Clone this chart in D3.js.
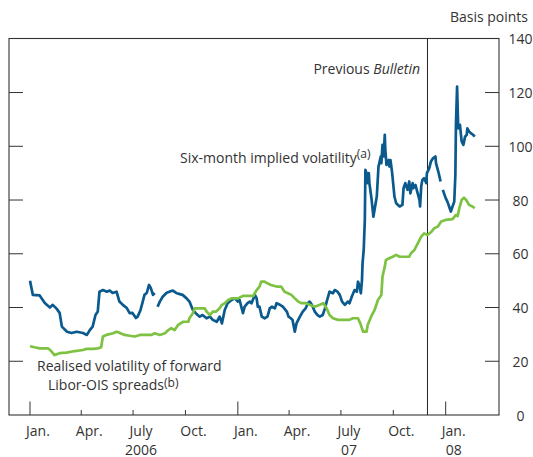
<!DOCTYPE html>
<html><head><meta charset="utf-8">
<script src="https://cdn.jsdelivr.net/npm/d3@7"></script>
<style>
html,body{margin:0;padding:0;background:#fff;}
text{font-family:"Open Sans","Noto Sans",sans-serif;fill:#333;}
</style></head>
<body><svg id="c" width="533" height="457"></svg>
<script>
// ---- data ----
const blueDates = ["2006-01-01","2006-01-06","2006-01-18","2006-01-27","2006-02-05","2006-02-10","2006-02-17","2006-02-22","2006-02-26","2006-03-07","2006-03-15","2006-03-24","2006-04-04","2006-04-11","2006-04-16","2006-04-21","2006-04-26","2006-04-30","2006-05-03","2006-05-09","2006-05-16","2006-05-21","2006-05-26","2006-06-02","2006-06-07","2006-06-13","2006-06-20","2006-06-25","2006-06-30","2006-07-06","2006-07-09","2006-07-14","2006-07-18","2006-07-21","2006-07-25","2006-07-29","2006-08-01","2006-08-05","2006-08-08","2006-08-10","2006-08-13","2006-08-17","2006-08-22","2006-08-29","2006-09-03","2006-09-09","2006-09-16","2006-09-21","2006-09-26","2006-10-03","2006-10-08","2006-10-14","2006-10-19","2006-10-26","2006-10-31","2006-11-07","2006-11-13","2006-11-18","2006-11-25","2006-11-30","2006-12-04","2006-12-09","2006-12-14","2006-12-21","2006-12-27","2007-01-01","2007-01-04","2007-01-10","2007-01-13","2007-01-18","2007-01-22","2007-01-25","2007-01-31","2007-02-03","2007-02-05","2007-02-08","2007-02-12","2007-02-17","2007-02-22","2007-02-26","2007-03-02","2007-03-07","2007-03-10","2007-03-16","2007-03-21","2007-03-28","2007-03-31","2007-04-04","2007-04-07","2007-04-11","2007-04-14","2007-04-20","2007-04-25","2007-04-30","2007-05-04","2007-05-07","2007-05-11","2007-05-16","2007-05-21","2007-05-25","2007-05-30","2007-06-03","2007-06-06","2007-06-11","2007-06-17","2007-06-20","2007-06-25","2007-06-29","2007-07-03","2007-07-08","2007-07-13","2007-07-16","2007-07-20","2007-07-25","2007-07-29","2007-07-31","2007-08-03","2007-08-05","2007-08-07","2007-08-08","2007-08-10","2007-08-12","2007-08-13","2007-08-15","2007-08-17","2007-08-19","2007-08-20","2007-08-24","2007-08-27","2007-08-29","2007-09-02","2007-09-05","2007-09-09","2007-09-10","2007-09-12","2007-09-14","2007-09-16","2007-09-17","2007-09-19","2007-09-23","2007-09-24","2007-09-26","2007-09-29","2007-10-03","2007-10-06","2007-10-12","2007-10-17","2007-10-19","2007-10-22","2007-10-26","2007-10-29","2007-10-31","2007-11-04","2007-11-05","2007-11-09","2007-11-12","2007-11-16","2007-11-17","2007-11-19","2007-11-21","2007-11-24","2007-11-28","2007-11-29","2007-12-03","2007-12-06","2007-12-10","2007-12-14","2007-12-15","2007-12-19","2007-12-23","2007-12-25","2007-12-27","2007-12-30","2008-01-01","2008-01-04","2008-01-07","2008-01-10","2008-01-13","2008-01-16","2008-01-18","2008-01-19","2008-01-21","2008-01-22","2008-01-23","2008-01-26","2008-01-29","2008-02-01","2008-02-04","2008-02-07","2008-02-08","2008-02-11","2008-02-14","2008-02-18","2008-02-21"];
const blueValues = [50,44.7,44.5,41.7,40,41,39.5,38,32.9,31,30.5,31,30.5,29.8,31.6,32.9,37.2,38.5,45.9,46.5,45.9,46.3,45.4,45.9,42.2,41,39.8,37.9,38,36.1,36.6,39,42.2,44.7,45.4,48.4,47.3,44.7,45.4,null,40.3,42.2,44,45.5,45.9,46.3,45.3,45,44.7,43.4,42.2,39.1,37.9,36.6,37.2,36,36.6,35.4,34.7,36.6,34.1,39.1,41.6,42.8,43.4,42.2,42.8,37.9,40.3,41.6,42.2,41.6,44.7,43.4,40.3,40.3,36.6,36,36.6,39.7,40.3,39.7,41.6,41,40.3,38.5,36.6,36,35.4,31,34.1,36.6,38.5,39.7,41.6,42.2,41,38.5,37.2,36.6,37.2,39.7,42.2,45.9,45.3,46.5,45.9,44.7,42.2,41,42.2,41.6,44,46.5,45.9,49.6,47.8,45.3,50.3,56.5,61.4,72.6,91.2,90,86.3,90,86.3,80,73.8,76.3,81.3,92.5,96.2,93.7,100.5,96.2,104.3,98.7,93.1,94.9,92.5,94.9,90,81.3,78.8,77.6,78.2,84.4,86.3,83.8,86.9,82.5,86.3,84.4,85.6,83.1,80,77.6,85,87.5,88.1,86.3,90,91.8,94.3,95.6,96.2,93.7,90.6,86.9,null,83.8,81.9,80.7,79.4,77.6,75.7,77.6,79.4,89.4,108,122.2,114.2,106.7,108,101.8,100.5,103.6,104.3,106.7,105.5,104.9,104.3,103.6];

const greenDates = ["2006-01-01","2006-01-09","2006-01-18","2006-02-02","2006-02-08","2006-02-13","2006-02-22","2006-03-06","2006-03-21","2006-04-04","2006-04-10","2006-04-22","2006-04-30","2006-05-06","2006-05-09","2006-05-15","2006-05-27","2006-06-02","2006-06-07","2006-06-16","2006-06-25","2006-07-04","2006-07-13","2006-07-21","2006-08-02","2006-08-08","2006-08-17","2006-08-26","2006-09-01","2006-09-06","2006-09-12","2006-09-18","2006-09-27","2006-10-06","2006-10-08","2006-10-14","2006-10-17","2006-11-04","2006-11-07","2006-11-13","2006-11-18","2006-11-24","2006-11-30","2006-12-04","2006-12-09","2006-12-15","2006-12-21","2007-01-01","2007-01-10","2007-01-28","2007-02-03","2007-02-08","2007-02-11","2007-02-17","2007-02-22","2007-02-28","2007-03-10","2007-03-18","2007-03-24","2007-03-30","2007-04-05","2007-04-11","2007-04-17","2007-04-23","2007-05-01","2007-05-07","2007-05-16","2007-05-25","2007-05-31","2007-06-06","2007-06-11","2007-06-17","2007-06-26","2007-07-16","2007-07-22","2007-07-31","2007-08-04","2007-08-09","2007-08-15","2007-08-17","2007-08-23","2007-08-29","2007-09-04","2007-09-10","2007-09-12","2007-09-16","2007-09-18","2007-09-24","2007-09-30","2007-10-06","2007-10-12","2007-10-29","2007-11-01","2007-11-07","2007-11-13","2007-11-19","2007-11-24","2007-11-30","2007-12-06","2007-12-12","2007-12-18","2007-12-24","2008-01-01","2008-01-13","2008-01-19","2008-01-22","2008-01-25","2008-01-29","2008-02-02","2008-02-06","2008-02-11","2008-02-17","2008-02-21"];
const greenValues = [25.6,25.2,24.8,24.8,23.6,22.3,23,23.2,23.8,24.2,24.6,24.6,24.8,25.2,29.2,29.8,30.4,31,30.6,29.8,29.5,29.2,29.8,29.8,29.8,30.4,29.8,30.4,31.6,32.3,31.6,33.5,34.7,34.7,36,37.9,39.7,39.7,38.5,37.2,38.5,38.5,39.7,41,41.6,42.8,43.4,43.4,44.3,44.3,46.5,47.8,49.6,49.6,49,48.4,47.8,47.8,45.9,45.3,44.7,43.4,42.2,41.6,41.6,41,40.3,41,41.6,39.7,37.2,36,35.4,35.4,36,36,34.1,31,31,33.5,36.6,39,42.8,44.7,51.5,55.2,57.7,58.3,58.9,59.6,58.9,58.9,60.2,61.4,63.9,66.4,67.6,67,68,69.5,70.1,72,72.6,72.9,74.5,74,77,80,80.9,80,78.2,77.6,77];

const monthTicks = ["2006-01-01","2006-04-01","2006-07-01","2006-10-01","2007-01-01","2007-04-01","2007-07-01","2007-10-01","2008-01-01"];
const monthLabels = ["Jan.","Apr.","July","Oct.","Jan.","Apr.","July","Oct.","Jan."];
const yearDates = ["2006-07-01","2007-07-01","2008-01-01"];
const yearLabels = ["2006","07","08"];
const yTicks = [0,20,40,60,80,100,120,140];
const bulletinDate = "2007-11-30";

// ---- scales ----
const parse = d3.timeParse("%Y-%m-%d");
const frame = {l:9, r:499, t:38.5, b:415};
const x = d3.scaleTime().domain([parse("2006-01-01"), parse("2008-01-01")]).range([30, 445.7]);
const y = d3.scaleLinear().domain([0,140]).range([415, 38.8]);
const FS = "14px", SUP = "12px";

const svg = d3.select("#c");
const g = svg.append("g");

const blue = blueDates.map((d,i)=>({d:parse(d), v:blueValues[i]}));
const green = greenDates.map((d,i)=>({d:parse(d), v:greenValues[i]}));

// right axis labels via d3 axis
const yRight = d3.axisRight(y).tickValues(yTicks).tickSize(0).tickPadding(0).tickFormat(d3.format("d"));
const ra = g.append("g").attr("transform",`translate(${frame.r},0)`).call(yRight);
ra.select(".domain").remove();
ra.selectAll("text").attr("x", 21.5).attr("text-anchor","middle").attr("dy","0.36em")
  .style("font-size",FS).style("font-family",'"Open Sans",sans-serif').attr("fill","#333");

// inner ticks left and right
const inner = yTicks.filter(v=>v>0 && v<140);
g.selectAll("line.lt").data(inner).enter().append("line").attr("class","lt")
  .attr("x1",frame.l).attr("x2",frame.l+14).attr("y1",d=>y(d)).attr("y2",d=>y(d))
  .attr("stroke","#333").attr("stroke-width",1);
g.selectAll("line.rt").data(inner).enter().append("line").attr("class","rt")
  .attr("x1",frame.r-14).attr("x2",frame.r).attr("y1",d=>y(d)).attr("y2",d=>y(d))
  .attr("stroke","#333").attr("stroke-width",1);

// bottom ticks and labels
g.selectAll("line.bt").data(monthTicks).enter().append("line").attr("class","bt")
  .attr("x1",d=>x(parse(d))).attr("x2",d=>x(parse(d)))
  .attr("y1",frame.b).attr("y2",d=>frame.b-(d.slice(5,7)==="01"?13.5:5))
  .attr("stroke","#333").attr("stroke-width",1);
g.selectAll("text.bl").data(monthTicks).enter().append("text").attr("class","bl")
  .attr("x",d=>x(d3.timeDay.offset(parse(d),14.5))).attr("y",436)
  .attr("text-anchor","middle").style("font-size",FS).text((d,i)=>monthLabels[i]);
g.selectAll("text.yl").data(yearDates).enter().append("text").attr("class","yl")
  .attr("x",d=>x(d3.timeDay.offset(parse(d),14.5))).attr("y",454.5)
  .attr("text-anchor","middle").style("font-size",FS).text((d,i)=>yearLabels[i]);

// frame
g.append("rect").attr("x",frame.l).attr("y",frame.t).attr("width",frame.r-frame.l).attr("height",frame.b-frame.t)
  .attr("fill","none").attr("stroke","#333").attr("stroke-width",1.1);

// previous bulletin line
g.append("line").attr("x1",x(parse(bulletinDate))).attr("x2",x(parse(bulletinDate)))
  .attr("y1",frame.t).attr("y2",frame.b).attr("stroke","#222").attr("stroke-width",1);

// lines
const line = d3.line().defined(d=>d.v!=null).x(d=>x(d.d)).y(d=>y(d.v));
g.append("path").datum(blue).attr("d",line).attr("fill","none").attr("stroke","#0a5a8e").attr("stroke-width",2.7).attr("stroke-linejoin","round");
g.append("path").datum(green).attr("d",line).attr("fill","none").attr("stroke","#7dc242").attr("stroke-width",2.7).attr("stroke-linejoin","round");

// annotations
g.append("text").attr("x",528).attr("y",22).attr("text-anchor","end").style("font-size",FS).text("Basis points");
const pb = g.append("text").attr("x",420).attr("y",74).attr("text-anchor","end").style("font-size",FS);
pb.append("tspan").text("Previous ");
pb.append("tspan").style("font-style","italic").text("Bulletin");

const s1 = g.append("text").attr("x",180).attr("y",163).style("font-size",FS);
s1.append("tspan").text("Six-month implied volatility");
s1.append("tspan").attr("dy",-5).style("font-size",SUP).text("(a)");

g.append("text").attr("x",37).attr("y",371).style("font-size",FS).text("Realised volatility of forward");
const s2 = g.append("text").attr("x",48).attr("y",390).style("font-size",FS);
s2.append("tspan").text("Libor-OIS spreads");
s2.append("tspan").attr("dy",-3).style("font-size",SUP).text("(b)");
</script></body></html>
